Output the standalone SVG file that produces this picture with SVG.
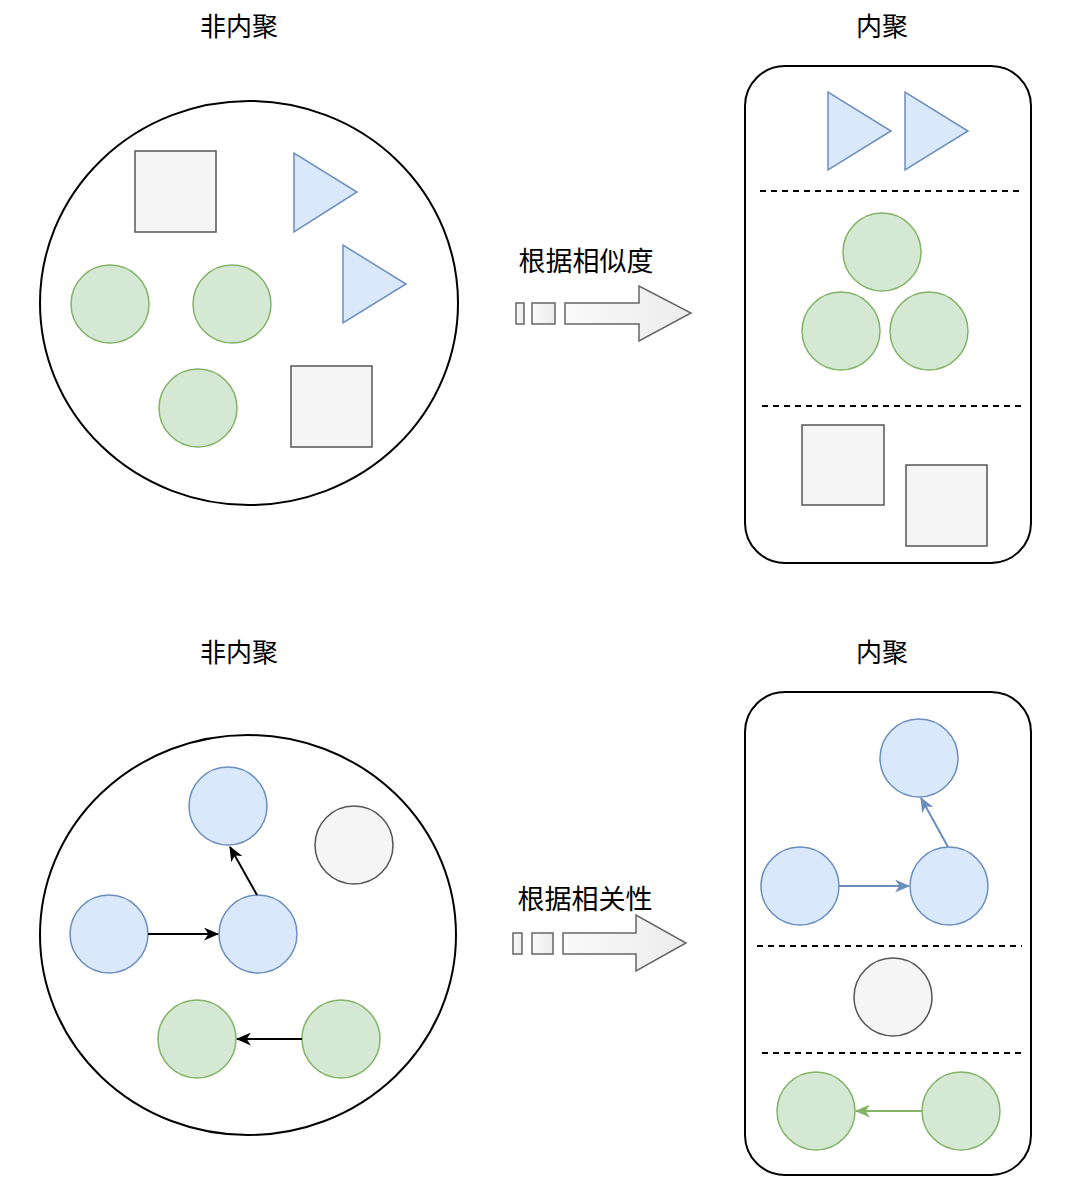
<svg xmlns="http://www.w3.org/2000/svg" width="1080" height="1191" viewBox="0 0 1080 1191">
<style>
text{font-family:"Noto Sans CJK SC","Noto Sans",sans-serif;fill:#000;text-anchor:middle}
.title{font-size:26px;font-weight:400}
.lbl{font-size:27px;font-weight:400}
.blue{fill:#dae8fc;stroke:#6c8ebf;stroke-width:1.5}
.green{fill:#d5e8d4;stroke:#82b366;stroke-width:1.5}
.gray{fill:#f5f5f5;stroke:#555555;stroke-width:1.5}
.container{fill:#fff;stroke:#000;stroke-width:2}
.dash{stroke:#000;stroke-width:2;stroke-dasharray:6 5;fill:none}
.bigarrow{fill:url(#g);stroke:#666;stroke-width:1.5}
</style>
<defs>
<linearGradient id="g" x1="0" y1="0" x2="1" y2="0">
<stop offset="0" stop-color="#fafafa"/><stop offset="1" stop-color="#ececec"/>
</linearGradient>
<marker id="mk" viewBox="0 0 14 12" refX="13" refY="6" markerWidth="15" markerHeight="13" markerUnits="userSpaceOnUse" orient="auto">
<path d="M0,0 L14,6 L0,12 L4,6 Z" fill="#000"/>
</marker>
<marker id="mb" viewBox="0 0 14 12" refX="13" refY="6" markerWidth="15" markerHeight="13" markerUnits="userSpaceOnUse" orient="auto">
<path d="M0,0 L14,6 L0,12 L4,6 Z" fill="#6c8ebf"/>
</marker>
<marker id="mg" viewBox="0 0 14 12" refX="13" refY="6" markerWidth="15" markerHeight="13" markerUnits="userSpaceOnUse" orient="auto">
<path d="M0,0 L14,6 L0,12 L4,6 Z" fill="#82b366"/>
</marker>
</defs>
<rect width="1080" height="1191" fill="#fff"/>

<text class="title" x="239" y="36">非内聚</text>
<text class="title" x="882" y="36">内聚</text>
<text class="title" x="239" y="662">非内聚</text>
<text class="title" x="882" y="662">内聚</text>

<g id="top-left">
<ellipse class="container" cx="249" cy="303" rx="209" ry="202"/>
<rect id="sq1" class="gray" x="135" y="151" width="81" height="81"/>
<polygon id="tri1" class="blue" points="294,153 294,232 357,192"/>
<polygon id="tri2" class="blue" points="343,245 343,323 406,284"/>
<circle id="gc1" class="green" cx="110" cy="304" r="39"/>
<circle id="gc2" class="green" cx="232" cy="304" r="39"/>
<circle id="gc3" class="green" cx="198" cy="408" r="39"/>
<rect id="sq2" class="gray" x="291" y="366" width="81" height="81"/>
</g>

<g id="arrow-top">
<text class="lbl" x="586" y="271">根据相似度</text>
<rect class="bigarrow" x="516" y="303" width="8" height="21"/>
<rect class="bigarrow" x="532" y="303" width="23" height="21"/>
<polygon class="bigarrow" points="565,303 639,303 639,286 691,313 639,341 639,324 565,324"/>
</g>

<g id="top-right">
<rect class="container" x="745" y="66" width="286" height="497" rx="40"/>
<polygon class="blue" points="828,92 828,170 891,131"/>
<polygon class="blue" points="905,92 905,170 968,131"/>
<line class="dash" x1="760" y1="191" x2="1024" y2="191"/>
<circle class="green" cx="882" cy="252" r="39"/>
<circle class="green" cx="841" cy="331" r="39"/>
<circle class="green" cx="929" cy="331" r="39"/>
<line class="dash" x1="762" y1="406" x2="1026" y2="406"/>
<rect class="gray" x="802" y="425" width="82" height="80"/>
<rect class="gray" x="906" y="465" width="81" height="81"/>
</g>

<g id="bottom-left">
<ellipse class="container" cx="248" cy="935" rx="208" ry="200"/>
<circle id="b1" class="blue" cx="228" cy="806" r="39"/>
<circle id="b2" class="blue" cx="109" cy="934" r="39"/>
<circle id="b3" class="blue" cx="258" cy="934" r="39"/>
<circle id="g1" class="gray" cx="354" cy="845" r="39"/>
<circle id="gr1" class="green" cx="197" cy="1039" r="39"/>
<circle id="gr2" class="green" cx="341" cy="1039" r="39"/>
</g>

<g id="arrow-bottom">
<text class="lbl" x="585" y="909">根据相关性</text>
<rect class="bigarrow" x="513" y="933" width="9" height="21"/>
<rect class="bigarrow" x="532" y="933" width="21" height="21"/>
<polygon class="bigarrow" points="563,933 636,933 636,915 686,943 636,971 636,954 563,954"/>
</g>

<g id="bottom-right">
<rect class="container" x="745" y="692" width="286" height="483" rx="40"/>
<circle class="blue" cx="919" cy="758" r="39"/>
<circle class="blue" cx="800" cy="886" r="39"/>
<circle class="blue" cx="949" cy="886" r="39"/>
<line class="dash" x1="757" y1="946" x2="1022" y2="946"/>
<circle class="gray" cx="893" cy="997" r="39"/>
<line class="dash" x1="762" y1="1053" x2="1026" y2="1053"/>
<circle class="green" cx="816" cy="1111" r="39"/>
<circle class="green" cx="961" cy="1111" r="39"/>
</g>

<g id="connectors">
<line x1="148" y1="934" x2="218" y2="934" stroke="#000" stroke-width="2" marker-end="url(#mk)"/>
<line x1="257" y1="895" x2="230" y2="847" stroke="#000" stroke-width="2" marker-end="url(#mk)"/>
<line x1="302" y1="1039" x2="237" y2="1039" stroke="#000" stroke-width="2" marker-end="url(#mk)"/>
<line x1="839" y1="886" x2="909" y2="886" stroke="#6c8ebf" stroke-width="2" marker-end="url(#mb)"/>
<line x1="948" y1="847" x2="921" y2="798" stroke="#6c8ebf" stroke-width="2" marker-end="url(#mb)"/>
<line x1="922" y1="1111" x2="856" y2="1111" stroke="#82b366" stroke-width="2" marker-end="url(#mg)"/>
</g>
</svg>
